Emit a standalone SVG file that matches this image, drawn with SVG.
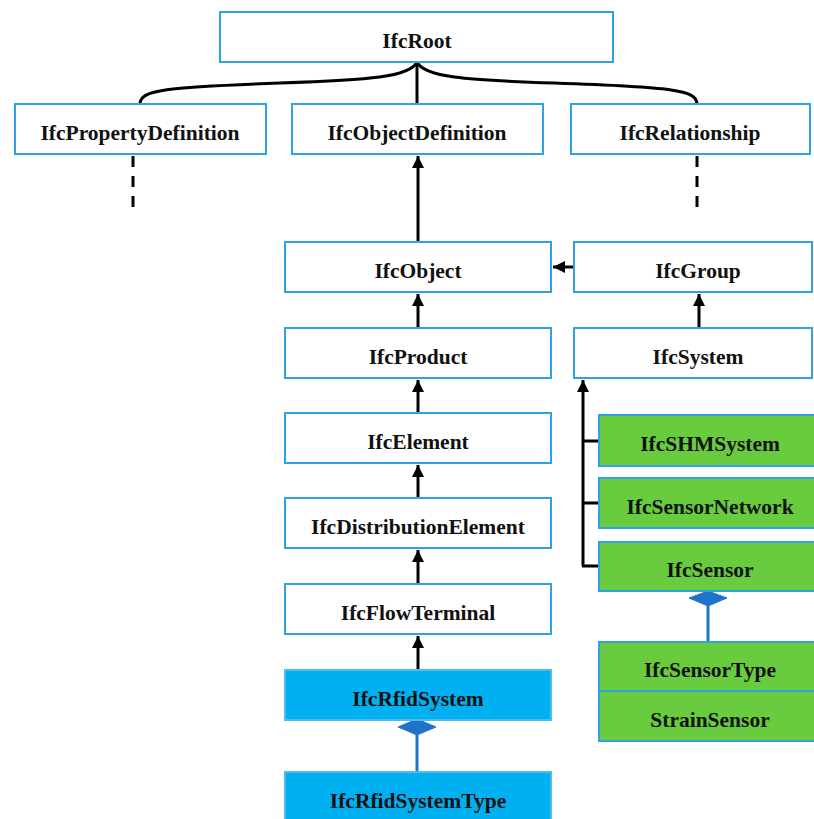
<svg xmlns="http://www.w3.org/2000/svg" width="814" height="819" viewBox="0 0 814 819">
<defs>
<style>
.box{fill:#ffffff;stroke:#2ea3e3;stroke-width:2}
.blue{fill:#00b0f0;stroke:#4dbdf0;stroke-width:2}
.green{fill:#68cc3e;stroke:#2ea3e3;stroke-width:2}
.t{font-family:"Liberation Serif","DejaVu Serif",serif;font-weight:bold;font-size:21.5px;fill:#111;text-anchor:middle}
.ln{stroke:#000;stroke-width:3;fill:none}
.dash{stroke:#000;stroke-width:3;fill:none;stroke-dasharray:11 9}
.comp{stroke:#1f74c8;stroke-width:3;fill:none}
.dia{fill:#1f74c8;stroke:#1f74c8;stroke-width:1}
</style>
<marker id="ah" viewBox="0 0 10 10" refX="10" refY="5" markerWidth="4" markerHeight="4" orient="auto" markerUnits="strokeWidth">
<path d="M0,0 L10,5 L0,10 z" fill="#000"/>
</marker>
</defs>
<rect width="814" height="819" fill="#ffffff"/>
<g id="connectors">
<path class="ln" d="M417,62 C410,77 370,80 280,83 C165,87 140,90 140,104"/>
<path class="ln" d="M417,62 L417,104"/>
<path class="ln" d="M417,62 C424,77 464,80 554,83 C672,87 697,90 697,104"/>
<path class="dash" d="M133,156 L133,210"/>
<path class="dash" d="M697,156 L697,210"/>
<path class="ln" d="M418,242 L418,156" marker-end="url(#ah)"/>
<path class="ln" d="M574,267 L553,267" marker-end="url(#ah)"/>
<path class="ln" d="M699,328 L699,294" marker-end="url(#ah)"/>
<path class="ln" d="M418,328 L418,294" marker-end="url(#ah)"/>
<path class="ln" d="M418,413 L418,380" marker-end="url(#ah)"/>
<path class="ln" d="M418,498 L418,465" marker-end="url(#ah)"/>
<path class="ln" d="M418,584 L418,550" marker-end="url(#ah)"/>
<path class="ln" d="M418,670 L418,636" marker-end="url(#ah)"/>
<path class="ln" d="M583,566 L583,380" marker-end="url(#ah)"/>
<path class="ln" d="M582,441 L599,441 M582,503 L599,503 M582,566 L599,566"/>
<path class="comp" d="M417,734 L417,772"/>
<path class="dia" d="M417,719 L436,727 L417,735 L398,727 z"/>
<path class="comp" d="M708,605 L708,642"/>
<path class="dia" d="M708,591 L727,598 L708,606 L689,598 z"/>
</g>
<g id="IfcRoot"><rect class="box" x="220" y="12" width="393" height="50"/><text class="t" x="417" y="48">IfcRoot</text></g>
<g id="IfcPropertyDefinition"><rect class="box" x="15" y="104" width="251" height="50"/><text class="t" x="140" y="140">IfcPropertyDefinition</text></g>
<g id="IfcObjectDefinition"><rect class="box" x="292" y="104" width="251" height="50"/><text class="t" x="417" y="140">IfcObjectDefinition</text></g>
<g id="IfcRelationship"><rect class="box" x="571" y="104" width="239" height="50"/><text class="t" x="690" y="140">IfcRelationship</text></g>
<g id="IfcObject"><rect class="box" x="285" y="242" width="266" height="50"/><text class="t" x="418" y="278">IfcObject</text></g>
<g id="IfcGroup"><rect class="box" x="574" y="242" width="238" height="50"/><text class="t" x="698" y="278">IfcGroup</text></g>
<g id="IfcProduct"><rect class="box" x="285" y="328" width="266" height="50"/><text class="t" x="418" y="364">IfcProduct</text></g>
<g id="IfcSystem"><rect class="box" x="574" y="328" width="238" height="50"/><text class="t" x="698" y="364">IfcSystem</text></g>
<g id="IfcElement"><rect class="box" x="285" y="413" width="266" height="50"/><text class="t" x="418" y="449">IfcElement</text></g>
<g id="IfcDistributionElement"><rect class="box" x="285" y="498" width="266" height="50"/><text class="t" x="418" y="534">IfcDistributionElement</text></g>
<g id="IfcFlowTerminal"><rect class="box" x="285" y="584" width="266" height="50"/><text class="t" x="418" y="620">IfcFlowTerminal</text></g>
<g id="IfcRfidSystem"><rect class="blue" x="285" y="670" width="266" height="50"/><text class="t" x="418" y="706">IfcRfidSystem</text></g>
<g id="IfcRfidSystemType"><rect class="blue" x="285" y="772" width="266" height="60"/><text class="t" x="418" y="808">IfcRfidSystemType</text></g>
<g id="IfcSHMSystem"><rect class="green" x="599" y="415" width="220" height="51"/><text class="t" x="710" y="451">IfcSHMSystem</text></g>
<g id="IfcSensorNetwork"><rect class="green" x="599" y="478" width="220" height="50"/><text class="t" x="710" y="514">IfcSensorNetwork</text></g>
<g id="IfcSensor"><rect class="green" x="599" y="542" width="220" height="49"/><text class="t" x="710" y="577">IfcSensor</text></g>
<g id="IfcSensorType"><rect class="green" x="599" y="642" width="220" height="49"/><text class="t" x="710" y="677">IfcSensorType</text></g>
<g id="StrainSensor"><rect class="green" x="599" y="691" width="220" height="50"/><text class="t" x="710" y="727">StrainSensor</text></g>
</svg>
